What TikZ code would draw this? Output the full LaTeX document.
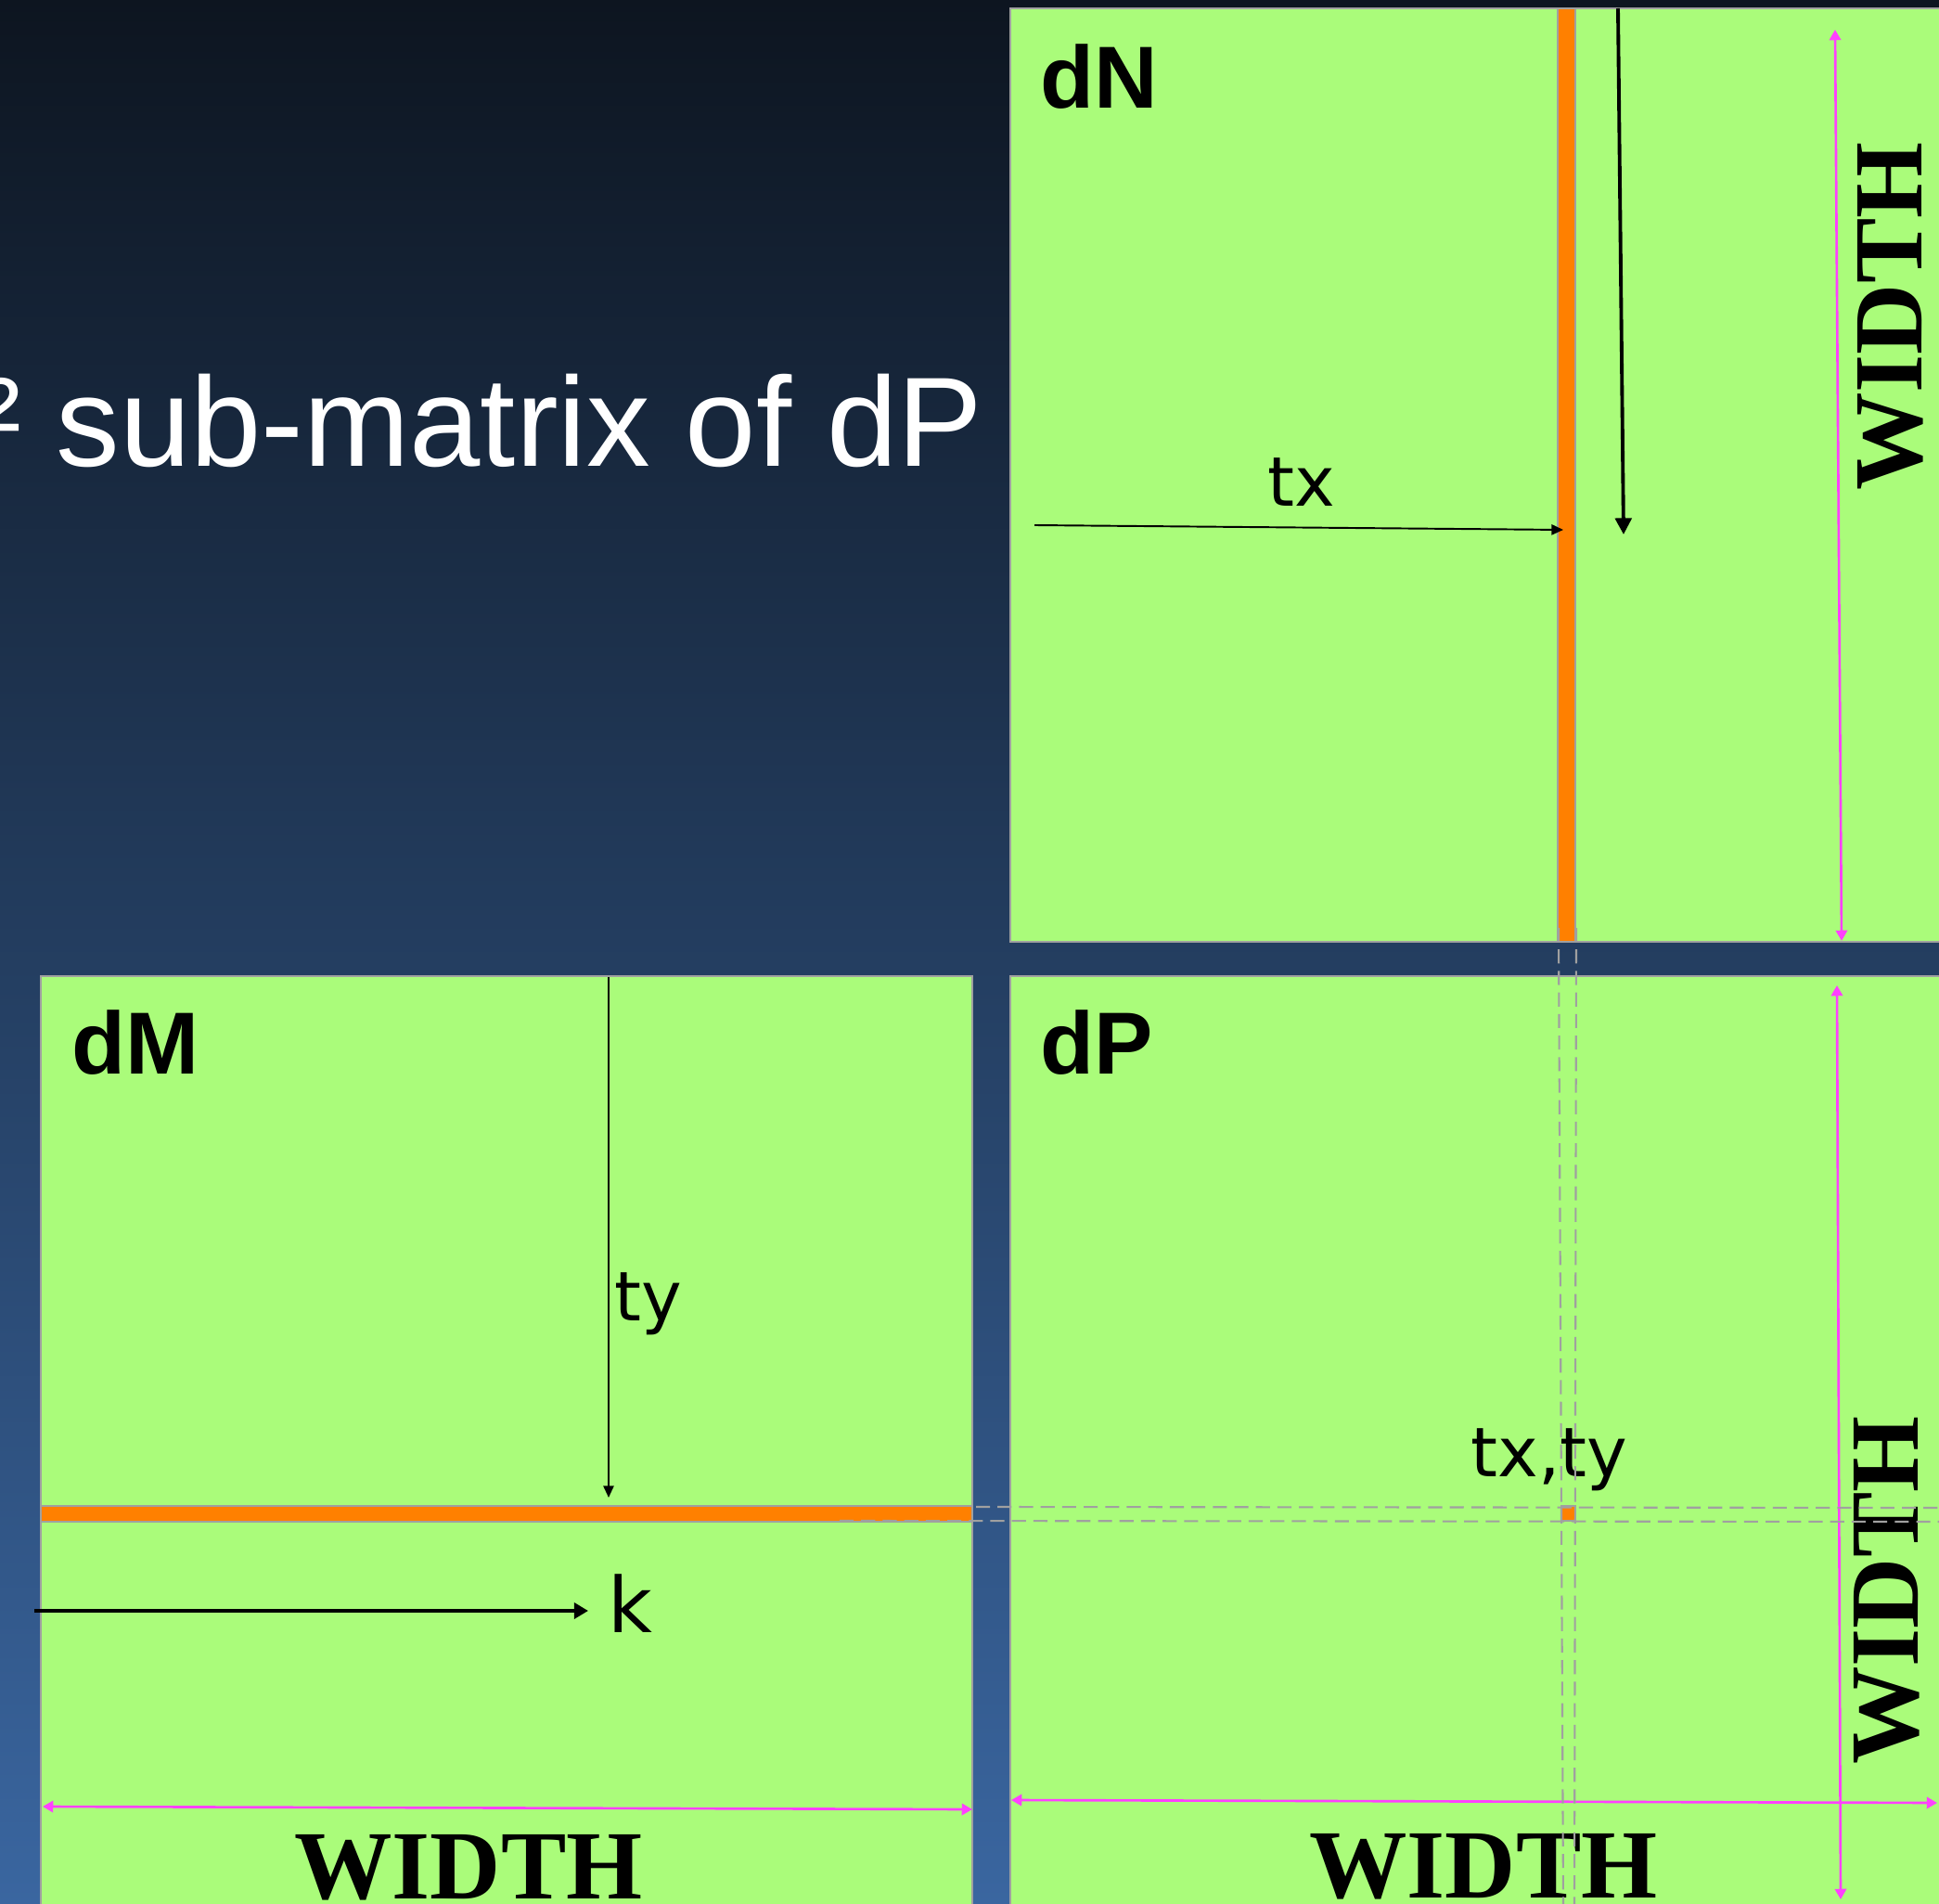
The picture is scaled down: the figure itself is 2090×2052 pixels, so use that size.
\documentclass[tikz,border=0pt]{standalone}
\usepackage{fontspec}
\setmainfont{Liberation Sans}
\newfontfamily\wfont{Liberation Serif}
\newfontfamily\lfont{DejaVu Sans}
\usetikzlibrary{arrows.meta}
\definecolor{mgreen}{HTML}{AAFC7A}
\definecolor{morange}{HTML}{FF8000}
\definecolor{mgray}{HTML}{A0A0A0}
\definecolor{mmag}{HTML}{FF40FF}
\definecolor{bgtop}{HTML}{0D1520}
\definecolor{bgbot}{HTML}{3A66A0}
\begin{document}
\begin{tikzpicture}[x=0.01cm,y=-0.01cm,
  matbox/.style={fill=mgreen,draw=mgray,line width=0.7pt},
  strip/.style={fill=morange,draw=mgray,line width=0.6pt},
  guide/.style={draw=mgray,line width=0.6pt,dash pattern=on 4.3pt off 2.3pt},
  dim/.style={draw=mmag,line width=0.75pt,{Triangle[length=3.2pt,width=3.5pt]}-{Triangle[length=3.2pt,width=3.5pt]}},
  thinarrow/.style={draw=black,line width=0.55pt,-{Triangle[length=3.6pt,width=3.2pt]}},
  thickarrow/.style={draw=black,line width=1.1pt,-{Triangle[length=5pt,width=5pt]}},
  karrow/.style={draw=black,line width=1.2pt,-{Triangle[length=4.3pt,width=4.8pt]}},
  titletext/.style={text=white,font=\fontsize{39}{39}\selectfont,inner sep=0},
  mlabel/.style={font=\bfseries\fontsize{27}{27}\selectfont,inner sep=0},
  idx/.style={font=\lfont\fontsize{21}{21}\selectfont,inner sep=0},
  klabel/.style={font=\lfont\fontsize{23.5}{23.5}\selectfont,inner sep=0},
  wlabel/.style={font=\wfont\bfseries\fontsize{30}{30}\selectfont,inner sep=0}]
\useasboundingbox (0,0) rectangle (2090,2052);
\clip (0,0) rectangle (2090,2052);
% background
\shade[top color=bgtop,bottom color=bgbot] (0,0) rectangle (2090,2052);
% title
\node[titletext,anchor=base east] (title) at (1060,503) {² sub-matrix of dP};
% matrices
\path[matbox] (1089,9) rectangle (2110,1015);
\path[matbox] (1089,1052) rectangle (2110,2070);
\path[matbox] (44,1052) rectangle (1048,2070);
% strips
\path[strip] (1679,9) rectangle (1698,1015);
\path[strip] (44,1623) rectangle (1048,1640);
\path[strip] (1683,1623) rectangle (1698,1639);
% labels
\node[mlabel,anchor=base west] (dN) at (1121,117) {dN};
\node[mlabel,anchor=base west] (dM) at (77,1157) {dM};
\node[mlabel,anchor=base west] (dP) at (1121,1157) {dP};
\node[idx,anchor=base west] (tx) at (1366,546) {tx};
\node[idx,anchor=base west] (ty) at (662,1423) {ty};
\node[idx,anchor=base west] (txty) at (1585,1591) {tx,ty};
\node[klabel,anchor=base west] (k) at (655,1759) {k};
% WIDTH labels
\node[wlabel,anchor=base] (wM) at (505,2046) {WIDTH};
\node[wlabel,anchor=base] (wP) at (1599,2045) {WIDTH};
\node[wlabel,rotate=90,anchor=base] (wN) at (2071,341) {WIDTH};
\node[wlabel,rotate=90,anchor=base] (wPv) at (2067,1714) {WIDTH};
% dimension arrows
\coordinate (mNt) at (1978,32);   \coordinate (mNb) at (1985,1014);
\coordinate (mPt) at (1980,1062); \coordinate (mPb) at (1984,2047);
\coordinate (mMl) at (46,1947);   \coordinate (mMr) at (1048,1950);
\coordinate (mPl) at (1090,1940); \coordinate (mPr) at (2088,1943);
\draw[dim] (mNt) -- (mNb);
\draw[dim] (mPt) -- (mPb);
\draw[dim] (mMl) -- (mMr);
\draw[dim] (mPl) -- (mPr);
% index arrows
\coordinate (txs) at (1115,566);  \coordinate (txe) at (1685,571);
\coordinate (vNs) at (1744,9);    \coordinate (vNe) at (1750,576);
\coordinate (tys) at (656,1053);  \coordinate (tye) at (656,1614);
\coordinate (ks) at (37,1736);    \coordinate (ke) at (634,1736);
\draw[thinarrow] (txs) -- (txe);
\draw[thickarrow] (vNs) -- (vNe);
\draw[thinarrow] (tys) -- (tye);
\draw[karrow] (ks) -- (ke);
% guide lines
\coordinate (g1s) at (1680,1000); \coordinate (g1e) at (1685,2052);
\coordinate (g2s) at (1699,1000); \coordinate (g2e) at (1697,2052);
\coordinate (g3s) at (1052,1624); \coordinate (g3e) at (2090,1625);
\coordinate (g4s) at (905,1639);  \coordinate (g4e) at (2090,1640);
\draw[guide] (g1s) -- (g1e);
\draw[guide] (g2s) -- (g2e);
\draw[guide] (g3s) -- (g3e);
\draw[guide] (g4s) -- (g4e);
\end{tikzpicture}
\end{document}
